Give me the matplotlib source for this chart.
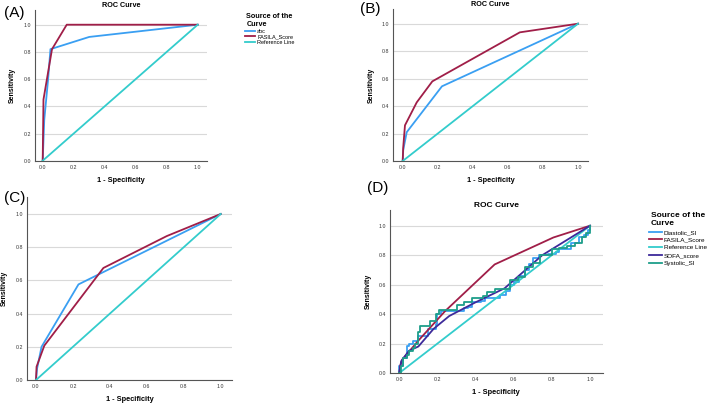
import matplotlib
matplotlib.use("Agg")
import matplotlib.pyplot as plt

plt.rcParams["font.family"] = ["Liberation Sans", "DejaVu Sans"]

# ---------------- data ----------------
ticks = [0.0, 0.2, 0.4, 0.6, 0.8, 1.0]
tick_labels = ["0.0", "0.2", "0.4", "0.6", "0.8", "1.0"]
ref_x = [0.0, 1.0]
ref_y = [0.0, 1.0]

# Panel A
a_abc_x = [0.0, 0.01, 0.035, 0.05, 0.30, 1.0]
a_abc_y = [0.0, 0.30, 0.60, 0.82, 0.91, 1.0]
a_fas_x = [0.0, 0.005, 0.06, 0.155, 1.0]
a_fas_y = [0.0, 0.45, 0.82, 1.0, 1.0]

# Panel B
b_blue_x = [0.0, 0.003, 0.023, 0.224, 1.0]
b_blue_y = [0.0, 0.08, 0.21, 0.544, 1.0]
b_red_x = [0.0, 0.003, 0.013, 0.08, 0.169, 0.668, 1.0]
b_red_y = [0.0, 0.10, 0.26, 0.427, 0.58, 0.937, 1.0]

# Panel C
c_blue_x = [0.0, 0.006, 0.03, 0.23, 1.0]
c_blue_y = [0.0, 0.07, 0.20, 0.576, 1.0]
c_red_x = [0.0, 0.003, 0.045, 0.365, 0.708, 1.0]
c_red_y = [0.0, 0.08, 0.207, 0.675, 0.867, 1.0]

# Panel D
d_dia_x = [0.0, 0.0, 0.02, 0.04, 0.05, 0.07, 0.10, 0.10, 0.15, 0.15, 0.19, 0.20, 0.22,
           0.32, 0.34, 0.36, 0.38, 0.43, 0.45, 0.52, 0.53, 0.56, 0.58, 0.60, 0.63, 0.66,
           0.68, 0.70, 0.73, 0.78, 0.82, 0.84, 0.86, 0.90, 0.94, 0.97, 0.99, 1.0]
d_dia_y = [0.0, 0.05, 0.10, 0.18, 0.20, 0.22, 0.22, 0.25, 0.28, 0.30, 0.33, 0.40, 0.42,
           0.42, 0.44, 0.45, 0.48, 0.49, 0.51, 0.51, 0.53, 0.56, 0.60, 0.62, 0.66, 0.70,
           0.74, 0.78, 0.80, 0.81, 0.82, 0.84, 0.84, 0.88, 0.92, 0.94, 0.97, 1.0]
d_fas_x = [0.0, 0.005, 0.015, 0.10, 0.24, 0.50, 0.808, 1.0]
d_fas_y = [0.0, 0.05, 0.09, 0.22, 0.42, 0.737, 0.92, 1.0]
d_sofa_x = [0.0, 0.01, 0.05, 0.10, 0.18, 0.262, 0.40, 0.552, 0.75, 1.0]
d_sofa_y = [0.0, 0.08, 0.15, 0.18, 0.30, 0.387, 0.48, 0.575, 0.80, 1.0]
d_sys_x = [0.0, 0.01, 0.02, 0.04, 0.05, 0.07, 0.08, 0.10, 0.11, 0.15, 0.16, 0.19, 0.21,
           0.26, 0.30, 0.34, 0.38, 0.44, 0.46, 0.50, 0.55, 0.58, 0.62, 0.66, 0.70, 0.74,
           0.80, 0.84, 0.88, 0.92, 0.96, 0.98, 1.0]
d_sys_y = [0.0, 0.05, 0.10, 0.12, 0.15, 0.17, 0.20, 0.28, 0.32, 0.32, 0.35, 0.40, 0.43,
           0.43, 0.46, 0.48, 0.51, 0.52, 0.55, 0.57, 0.57, 0.63, 0.65, 0.72, 0.75, 0.80,
           0.84, 0.85, 0.86, 0.88, 0.92, 0.95, 1.0]

# ---------------- style ----------------
BLUE = "#3a9ff2"
RED = "#a01e48"
CYAN = "#33cccc"
PURPLE = "#3d2a9a"
TEAL = "#1e9e8a"

W, H = 709, 404
fig = plt.figure(figsize=(W / 100, H / 100), dpi=100)
fig.patch.set_facecolor("white")

def make_axes(px0, px1, py0, py1, xlim, ylim):
    """px0/px1: pixel x of data 0/1; py0/py1: pixel y (from top) of data 0/1."""
    sx = px1 - px0
    sy = py0 - py1
    left = px0 + xlim[0] * sx
    right = px0 + xlim[1] * sx
    bottom = py0 - ylim[0] * sy
    top = py0 - ylim[1] * sy
    ax = fig.add_axes([left / W, 1 - bottom / H, (right - left) / W, (bottom - top) / H])
    ax.set_xlim(*xlim)
    ax.set_ylim(*ylim)
    ax.spines["top"].set_visible(False)
    ax.spines["right"].set_visible(False)
    for s in ("left", "bottom"):
        ax.spines[s].set_color("#555555")
        ax.spines[s].set_linewidth(0.8)
    ax.set_xticks(ticks)
    ax.set_xticklabels(tick_labels)
    ax.set_yticks(ticks)
    ax.set_yticklabels(tick_labels)
    ax.tick_params(length=0, labelsize=3.8, colors="#333333", pad=3)
    ax.grid(axis="y", color="#d9d9d9", linewidth=0.8)
    ax.set_axisbelow(True)
    ax.set_xlabel("1 - Specificity", fontsize=5.3, fontweight="bold", labelpad=5)
    ax.set_ylabel("Sensitivity", fontsize=5, fontweight="bold", labelpad=5)
    return ax

LW = 1.3

# Panel A
axA = make_axes(42.7, 197.7, 160.7, 24.7, (-0.05, 1.06), (0, 1.108))
axA.plot(a_abc_x, a_abc_y, color=BLUE, lw=LW, label="abc")
axA.plot(a_fas_x, a_fas_y, color=RED, lw=LW, label="FASILA_Score")
axA.plot(ref_x, ref_y, color=CYAN, lw=LW, label="Reference Line")
axA.set_title("ROC Curve", fontsize=5.2, fontweight="bold", pad=2)
axA.legend(loc="upper left", bbox_to_anchor=(242 / W, 1 - 10 / H),
           bbox_transform=fig.transFigure, frameon=False, fontsize=4,
           title="Source of the\nCurve", title_fontproperties={"weight": "bold", "size": 5.2},
           handlelength=1.9, handletextpad=0.3, labelspacing=0.15, borderpad=0,
           alignment="center")

# Panel B
axB = make_axes(402.7, 578, 161, 23.7, (-0.055, 1.057), (0, 1.107))
axB.plot(b_blue_x, b_blue_y, color=BLUE, lw=LW)
axB.plot(b_red_x, b_red_y, color=RED, lw=LW)
axB.plot(ref_x, ref_y, color=CYAN, lw=LW)
axB.set_title("ROC Curve", fontsize=5.2, fontweight="bold", pad=2)

# Panel C
axC = make_axes(36, 220.7, 380, 214, (-0.049, 1.062), (0, 1.1))
axC.plot(c_blue_x, c_blue_y, color=BLUE, lw=LW)
axC.plot(c_red_x, c_red_y, color=RED, lw=LW)
axC.plot(ref_x, ref_y, color=CYAN, lw=LW)

# Panel D
axD = make_axes(399.3, 590, 373, 225.7, (-0.049, 1.067), (0, 1.107))
axD.plot(d_dia_x, d_dia_y, color=BLUE, lw=LW, label="Diastolic_SI", drawstyle="steps-post")
axD.plot(d_fas_x, d_fas_y, color=RED, lw=LW, label="FASILA_Score")
axD.plot(ref_x, ref_y, color=CYAN, lw=LW, label="Reference Line")
axD.plot(d_sofa_x, d_sofa_y, color=PURPLE, lw=LW, label="SOFA_score")
axD.plot(d_sys_x, d_sys_y, color=TEAL, lw=LW, label="Systolic_SI", drawstyle="steps-post")
axD.set_title("ROC Curve", fontsize=6, fontweight="bold", pad=2)
axD.legend(loc="upper left", bbox_to_anchor=(646 / W, 1 - 209 / H),
           bbox_transform=fig.transFigure, frameon=False, fontsize=4.6,
           title="Source of the\nCurve", title_fontproperties={"weight": "bold", "size": 6},
           handlelength=2.0, handletextpad=0.3, labelspacing=0.35, borderpad=0,
           alignment="center")

# Panel letters
fig.text(4 / W, 1 - 13 / H, "(A)", fontsize=11, va="center", ha="left")
fig.text(360 / W, 1 - 9 / H, "(B)", fontsize=11, va="center", ha="left")
fig.text(4 / W, 1 - 198 / H, "(C)", fontsize=11, va="center", ha="left")
fig.text(367 / W, 1 - 188 / H, "(D)", fontsize=11, va="center", ha="left")

fig.savefig("out.png", dpi=100, facecolor="white")
